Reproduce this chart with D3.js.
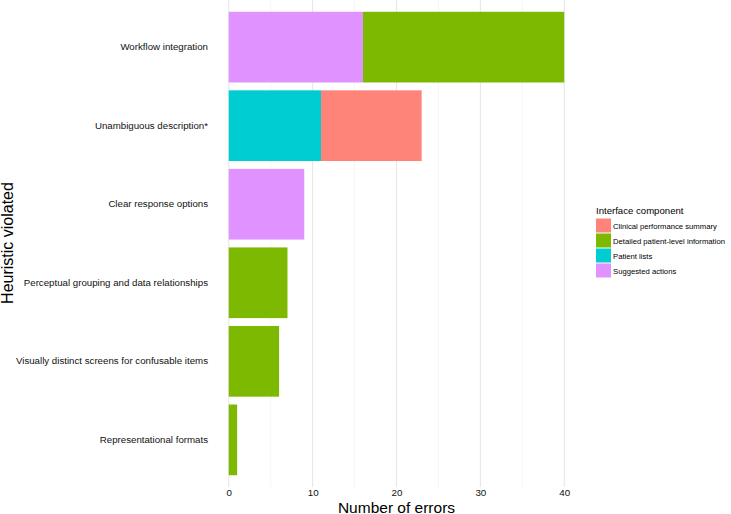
<!DOCTYPE html>
<html><head><meta charset="utf-8">
<script src="https://cdn.jsdelivr.net/npm/d3@7"></script>
<style>body{margin:0;background:#fff;} text{font-family:"Liberation Sans",Arial,Helvetica,sans-serif;}</style>
</head><body>
<svg id="chart" width="731" height="514"></svg>
<script>
const heuristics = ["Workflow integration","Unambiguous description*","Clear response options","Perceptual grouping and data relationships","Visually distinct screens for confusable items","Representational formats"];
const components = ["Clinical performance summary","Detailed patient-level information","Patient lists","Suggested actions"];
// errors per heuristic for each component
const clinicalSummary = [0,12,0,0,0,0];
const detailedPatient = [24,0,0,7,6,1];
const patientLists = [0,11,0,0,0,0];
const suggestedActions = [16,0,9,0,0,0];
const xTicks = [0,10,20,30,40];
const xMinor = [5,15,25,35];

const seriesVals = [clinicalSummary, detailedPatient, patientLists, suggestedActions];
const fillC = ["#FE8379","#7CB900","#00CDD1","#E093FF"];

const svg = d3.select("#chart");
const panel = {left:212, right:581, top:0, bottom:487};
const x = d3.scaleLinear().domain([-2,42]).range([panel.left, panel.right]);
// discrete scale with ggplot-style 0.6 expansion
const y = d3.scaleBand().domain(heuristics).range([panel.top, panel.bottom]).paddingInner(0.1).paddingOuter(0.15);
const bh = y.bandwidth();

// grid
svg.append("g").selectAll("line").data(xMinor).join("line")
  .attr("x1",d=>x(d)).attr("x2",d=>x(d)).attr("y1",panel.top).attr("y2",panel.bottom)
  .attr("stroke","#efefef").attr("stroke-width",0.7);
svg.append("g").selectAll("line").data(xTicks).join("line")
  .attr("x1",d=>x(d)).attr("x2",d=>x(d)).attr("y1",panel.top).attr("y2",panel.bottom)
  .attr("stroke","#e6e6e6").attr("stroke-width",1.1);

// stacked bars: reversed level order (last level leftmost)
const order = [3,2,1,0];
heuristics.forEach((h,i)=>{
  let acc = 0;
  order.forEach(k=>{
    const v = seriesVals[k][i];
    if(v>0){
      svg.append("rect").attr("x",x(acc)).attr("width",x(acc+v)-x(acc))
        .attr("y",y(h)).attr("height",bh).attr("fill",fillC[k]);
      acc += v;
    }
  });
});

// axes labels
const yAxis = d3.axisLeft(y).tickSize(0).tickPadding(0);
const gy = svg.append("g").attr("transform",`translate(${panel.left-4},0)`).call(yAxis);
gy.select(".domain").remove();
gy.selectAll("text").attr("font-size",9.7).attr("fill","#111").attr("font-family","Liberation Sans, Arial, sans-serif");

const xAxis = d3.axisBottom(x).tickValues(xTicks).tickSize(0).tickPadding(0);
const gx = svg.append("g").attr("transform",`translate(0,${panel.bottom+2.5})`).call(xAxis);
gx.select(".domain").remove();
gx.selectAll("text").attr("font-size",9.8).attr("fill","#111").attr("font-family","Liberation Sans, Arial, sans-serif");

svg.append("text").attr("x",(panel.left+panel.right)/2).attr("y",512.5).attr("text-anchor","middle")
  .attr("font-size",15.5).attr("fill","#000").text("Number of errors");
svg.append("text").attr("transform",`translate(12.5,243) rotate(-90)`).attr("text-anchor","middle")
  .attr("font-size",16).attr("fill","#000").text("Heuristic violated");

// legend
const lg = svg.append("g").attr("transform","translate(596,0)");
lg.append("text").attr("x",0).attr("y",214).attr("font-size",9.6).attr("fill","#000").text("Interface component");
components.forEach((c,i)=>{
  lg.append("rect").attr("x",0).attr("y",218.5+i*15).attr("width",15).attr("height",14).attr("fill",fillC[i]);
  lg.append("text").attr("x",17).attr("y",218.5+i*15+10).attr("font-size",7.7).attr("fill","#000").text(c);
});
</script>
</body></html>
